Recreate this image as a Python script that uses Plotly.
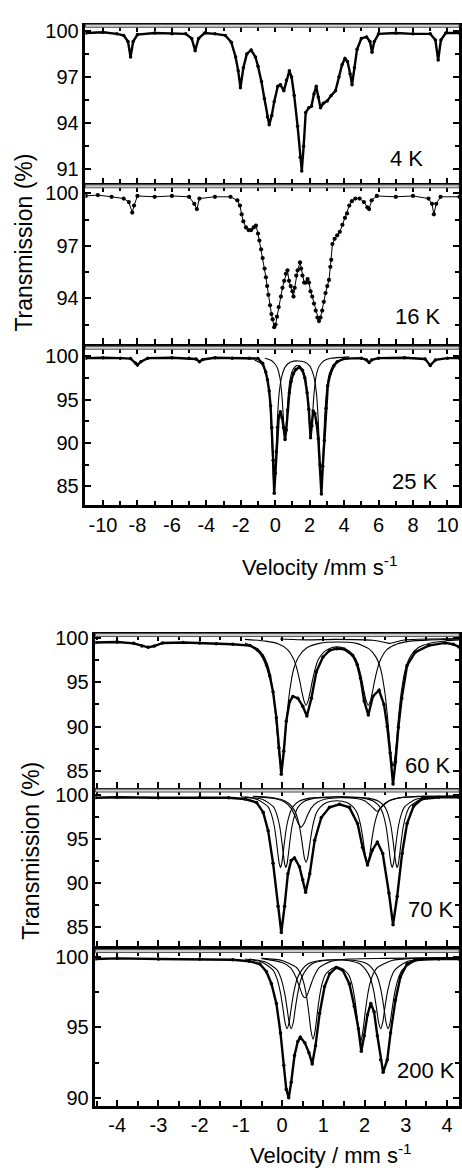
import plotly.graph_objects as go

# ---------------- DATA ----------------
# Top group: velocity in mm/s, transmission in %
v4K = [-11.0,-10.0,-9.2,-8.8,-8.55,-8.4,-8.25,-8.0,-7.0,-6.0,-5.2,-4.85,-4.65,-4.45,-4.1,-3.5,-2.9,-2.55,-2.3,-2.15,-2.02,-1.85,-1.65,-1.4,-1.15,-1.0,-0.8,-0.63,-0.45,-0.35,-0.2,-0.06,0.15,0.3,0.5,0.65,0.82,0.95,1.1,1.3,1.45,1.54,1.65,1.77,1.95,2.1,2.25,2.38,2.5,2.63,2.8,3.02,3.25,3.5,3.7,3.88,4.05,4.2,4.35,4.46,4.6,4.75,5.0,5.3,5.5,5.62,5.75,6.0,7.0,8.0,9.0,9.3,9.46,9.62,9.9,10.7]
t4K = [99.85,99.9,99.8,99.7,99.3,98.3,99.3,99.75,99.85,99.8,99.8,99.5,98.7,99.5,99.85,99.8,99.7,99.25,98.3,97.4,96.3,97.6,98.5,98.75,98.3,97.7,96.7,95.6,94.4,93.9,94.5,95.4,96.4,96.5,96.1,96.8,97.4,97.0,95.8,93.8,91.8,90.9,92.5,94.7,95.0,95.1,95.9,96.4,95.7,95.0,95.3,95.45,95.8,96.1,97.0,97.8,98.2,98.0,97.2,96.5,97.6,98.8,99.5,99.6,99.3,98.6,99.3,99.8,99.85,99.8,99.8,99.4,98.1,99.4,99.85,99.85]

v16K = [-11.0,-10.3,-9.5,-8.8,-8.5,-8.3,-8.2,-8.0,-7.0,-6.0,-5.0,-4.7,-4.55,-4.4,-3.5,-2.6,-2.2,-2.05,-1.95,-1.85,-1.7,-1.55,-1.4,-1.25,-1.12,-1.0,-0.92,-0.82,-0.73,-0.62,-0.54,-0.47,-0.4,-0.3,-0.22,-0.15,-0.06,0.02,0.1,0.2,0.33,0.42,0.52,0.62,0.71,0.8,0.9,1.0,1.06,1.13,1.22,1.3,1.44,1.5,1.58,1.68,1.77,1.88,1.96,2.05,2.15,2.25,2.35,2.45,2.54,2.63,2.73,2.82,2.92,3.02,3.12,3.2,3.25,3.32,3.45,3.6,3.75,3.9,4.05,4.17,4.3,4.45,4.65,4.9,5.15,5.35,5.45,5.6,5.9,7.0,8.0,8.9,9.1,9.21,9.35,9.6,10.7]
t16K = [99.85,99.9,99.8,99.7,99.5,98.9,99.3,99.85,99.8,99.85,99.8,99.4,99.1,99.7,99.8,99.8,99.6,99.3,98.8,98.4,98.05,97.9,97.9,98.05,98.15,97.7,97.3,96.8,96.3,95.7,95.2,94.7,94.2,93.6,93.1,92.8,92.35,92.5,92.95,93.5,94.1,94.6,95.0,95.4,95.6,95.0,94.7,94.4,94.1,94.6,95.3,95.6,96.05,95.7,95.3,94.9,94.9,95.1,94.9,94.4,94.1,93.7,93.3,92.9,92.7,92.9,93.3,93.8,94.3,94.7,95.05,95.8,96.2,97.1,97.4,97.6,97.8,98.2,98.6,98.85,99.3,99.55,99.7,99.7,99.5,99.2,99.1,99.6,99.85,99.8,99.85,99.7,99.4,98.8,99.4,99.8,99.8]

v25K = [-11.0,-10.0,-9.0,-8.4,-8.1,-8.0,-7.8,-7.4,-6.0,-5.0,-4.6,-4.4,-4.2,-3.5,-2.5,-1.5,-1.0,-0.73,-0.55,-0.45,-0.35,-0.27,-0.2,-0.12,-0.06,0.0,0.06,0.13,0.2,0.3,0.4,0.48,0.57,0.64,0.72,0.82,0.92,1.05,1.2,1.4,1.58,1.72,1.85,1.95,2.05,2.13,2.2,2.3,2.4,2.5,2.6,2.68,2.76,2.85,2.95,3.05,3.2,3.4,3.6,4.0,5.0,5.3,5.45,5.6,6.0,7.5,8.7,9.0,9.3,10.0,10.7]
t25K = [99.8,99.85,99.8,99.75,99.2,99.0,99.4,99.8,99.85,99.8,99.7,99.4,99.65,99.85,99.8,99.8,99.75,99.2,98.2,97.3,96.0,94.3,91.8,88.0,84.2,86.5,89.0,91.8,93.0,93.6,92.9,91.8,90.4,91.5,93.8,95.8,97.1,98.0,98.5,98.75,98.4,97.5,95.8,93.9,90.6,92.0,93.7,93.4,92.3,90.5,87.5,84.1,87.3,90.3,94.0,96.6,98.0,98.9,99.4,99.75,99.8,99.6,99.3,99.6,99.8,99.85,99.7,98.95,99.6,99.8,99.8]

# 25 K fit components
v25K_c1 = [-1.2,-0.8,-0.5,-0.35,-0.25,-0.17,-0.1,-0.06,-0.02,0.05,0.13,0.23,0.38,0.6,0.9,1.31,1.7,2.0,2.24,2.39,2.49,2.57,2.64,2.68,2.72,2.79,2.87,2.97,3.12,3.42,3.82,4.3]
t25K_c1 = [99.6,99.15,97.8,95.8,92.9,89.1,85.7,85.0,85.7,89.1,92.9,95.8,97.7,98.85,99.35,99.48,99.35,98.9,97.7,95.8,92.9,89.1,85.7,85.0,85.7,89.1,92.9,95.8,97.8,99.15,99.6,99.75]
v25K_c2 = [-0.6,-0.2,0.0,0.13,0.28,0.38,0.46,0.53,0.57,0.61,0.68,0.76,0.86,1.01,1.2,1.31,1.42,1.61,1.77,1.87,1.95,2.02,2.06,2.10,2.17,2.25,2.35,2.5,2.63,2.83,3.23,4.3]
t25K_c2 = [99.78,99.5,99.1,98.65,97.45,95.65,93.35,91.35,90.95,91.35,93.3,95.6,97.3,98.4,98.9,98.95,98.9,98.4,97.3,95.6,93.3,91.35,90.95,91.35,93.35,95.65,97.45,98.65,99.1,99.5,99.78,99.95]

# Bottom group
v60K = [-4.53,-4.0,-3.6,-3.4,-3.25,-3.1,-2.9,-2.4,-2.0,-1.6,-1.2,-0.78,-0.6,-0.48,-0.38,-0.3,-0.22,-0.14,-0.08,-0.02,0.04,0.1,0.18,0.26,0.38,0.5,0.6,0.71,0.83,0.99,1.15,1.33,1.5,1.71,1.82,1.9,1.99,2.09,2.2,2.35,2.47,2.55,2.62,2.69,2.75,2.82,2.9,3.03,3.23,3.55,3.95,4.15,4.29]
t60K = [99.5,99.55,99.4,99.1,98.95,99.1,99.45,99.5,99.45,99.35,99.3,99.15,98.65,98.0,96.95,95.7,93.9,91.0,87.6,84.6,87.2,90.6,92.8,93.4,93.2,92.3,91.2,93.2,96.2,97.85,98.6,98.8,98.75,98.05,97.0,95.5,92.9,91.3,93.4,94.1,92.5,90.0,87.0,83.5,86.0,89.9,93.2,96.9,98.4,99.15,99.45,99.3,99.0]
v60K_a = [-0.9,-0.6,-0.45,-0.32,-0.22,-0.15,-0.1,-0.06,-0.02,0.02,0.06,0.11,0.18,0.28,0.41,0.6,0.9,1.33,1.8,2.1,2.27,2.39,2.49,2.56,2.61,2.65,2.69,2.73,2.77,2.82,2.89,2.99,3.12,3.3,3.6,4.0,4.29]
t60K_a = [99.45,98.8,98.0,96.5,93.9,90.9,88.1,86.3,85.5,86.3,88.1,90.9,93.9,96.5,97.95,98.9,99.4,99.55,99.4,98.8,97.9,96.5,93.9,90.9,88.1,86.3,85.5,86.3,88.1,90.9,93.9,96.5,98.0,98.9,99.45,99.7,99.8]
v60K_b = [-0.9,-0.4,-0.1,0.13,0.28,0.36,0.43,0.48,0.53,0.58,0.63,0.68,0.73,0.8,0.88,1.03,1.2,1.335,1.47,1.64,1.79,1.87,1.94,1.99,2.04,2.09,2.14,2.19,2.24,2.31,2.39,2.54,2.77,3.1,3.6,4.29]
t60K_b = [99.85,99.65,99.35,98.7,97.6,96.5,95.1,93.9,92.9,92.4,92.9,93.9,95.1,96.5,97.6,98.5,98.9,99.0,98.9,98.5,97.6,96.5,95.1,93.9,92.9,92.4,92.9,93.9,95.1,96.5,97.6,98.7,99.3,99.65,99.8,99.9]
v60K_c = [-0.05,0.6,1.3,2.2,2.45,2.6,2.75,3.0,3.6,4.29]
t60K_c = [99.9,99.8,99.85,99.75,99.55,99.4,99.55,99.8,99.9,99.95]

v70K = [-4.53,-4.0,-3.0,-2.0,-1.3,-0.9,-0.62,-0.46,-0.34,-0.22,-0.1,-0.02,0.06,0.14,0.22,0.3,0.42,0.5,0.57,0.67,0.79,0.95,1.15,1.39,1.63,1.83,1.95,2.07,2.19,2.31,2.44,2.59,2.69,2.79,2.91,3.03,3.19,3.39,3.8,4.29]
t70K = [99.75,99.8,99.75,99.8,99.75,99.6,99.2,98.1,96.0,92.3,87.4,84.4,87.4,91.1,92.6,92.9,91.9,90.4,89.0,91.1,94.9,97.5,98.65,99.0,98.65,96.8,94.1,92.1,93.8,94.7,93.4,88.9,85.3,88.5,93.4,96.8,98.8,99.6,99.8,99.8]
v70K_a1 = [-1.0,-0.6,-0.34,-0.26,-0.19,-0.14,-0.1,-0.07,-0.04,-0.01,0.02,0.06,0.11,0.18,0.26,0.41,0.66,1.0,1.4,1.8,2.09,2.34,2.49,2.57,2.64,2.69,2.73,2.76,2.79,2.82,2.85,2.89,2.94,3.01,3.09,3.35,3.75,4.29]
t70K_a1 = [99.85,99.55,98.7,97.85,96.5,94.85,93.25,92.25,91.8,92.25,93.25,94.85,96.5,97.85,98.7,99.35,99.7,99.8,99.85,99.8,99.7,99.35,98.7,97.85,96.5,94.85,93.25,92.25,91.8,92.25,93.25,94.85,96.5,97.85,98.7,99.55,99.85,99.9]
v70K_a2 = [-0.9,-0.47,-0.21,-0.13,-0.06,-0.01,0.03,0.06,0.09,0.12,0.15,0.19,0.24,0.31,0.39,0.54,0.79,1.13,1.38,1.67,1.97,2.22,2.37,2.45,2.52,2.57,2.61,2.64,2.67,2.70,2.73,2.77,2.82,2.89,2.97,3.23,3.63,4.29]
t70K_a2 = [99.85,99.55,98.7,97.85,96.5,94.85,93.25,92.25,91.8,92.25,93.25,94.85,96.5,97.85,98.7,99.35,99.7,99.8,99.85,99.8,99.7,99.35,98.7,97.85,96.5,94.85,93.25,92.25,91.8,92.25,93.25,94.85,96.5,97.85,98.7,99.55,99.85,99.9]
v70K_b = [-0.7,-0.3,0.08,0.23,0.33,0.4,0.46,0.5,0.54,0.58,0.62,0.66,0.7,0.76,0.83,0.93,1.08,1.325,1.57,1.72,1.82,1.89,1.95,1.99,2.03,2.07,2.11,2.15,2.19,2.25,2.32,2.42,2.57,2.95,3.4,4.29]
t70K_b = [99.9,99.8,99.35,98.8,98.0,96.9,95.4,94.1,92.9,92.4,92.9,94.1,95.4,96.9,98.0,98.7,99.2,99.4,99.2,98.7,98.0,96.9,95.4,94.1,92.9,92.2,92.9,94.1,95.4,96.9,98.0,98.8,99.35,99.8,99.9,99.95]
v70K_c = [-0.7,-0.14,0.06,0.21,0.31,0.38,0.46,0.54,0.61,0.71,0.86,1.06,1.4,1.8,2.0,2.15,2.3,2.45,2.6,2.8,3.3,4.29]
t70K_c = [99.9,99.6,99.25,98.6,97.7,96.9,96.4,96.9,97.7,98.6,99.25,99.6,99.75,99.65,99.4,98.85,98.2,98.85,99.4,99.7,99.9,99.95]

v200K = [-4.53,-4.0,-3.0,-2.0,-1.2,-0.8,-0.54,-0.38,-0.26,-0.14,-0.04,0.04,0.1,0.16,0.22,0.3,0.38,0.44,0.55,0.65,0.73,0.81,0.91,1.03,1.15,1.31,1.47,1.63,1.75,1.85,1.92,1.99,2.07,2.15,2.23,2.31,2.39,2.45,2.55,2.63,2.75,2.87,3.03,3.23,3.8,4.29]
t200K = [99.85,99.9,99.85,99.85,99.8,99.7,99.5,98.95,98.1,96.7,94.6,92.3,90.6,90.0,91.1,93.0,94.0,94.3,93.9,93.2,92.4,93.7,96.0,97.9,98.8,99.25,99.05,98.1,96.5,94.9,93.3,94.4,95.9,96.7,96.1,94.4,92.7,91.8,92.7,94.6,96.95,98.6,99.5,99.8,99.85,99.85]
v200K_a = [-0.9,-0.5,-0.23,-0.13,-0.04,0.02,0.07,0.12,0.17,0.22,0.28,0.37,0.47,0.62,0.92,1.345,1.77,2.07,2.22,2.32,2.41,2.47,2.52,2.57,2.62,2.67,2.73,2.82,2.92,3.19,3.59,4.29]
t200K_a = [99.85,99.65,99.1,98.5,97.45,96.35,95.35,94.9,95.35,96.35,97.45,98.5,99.05,99.5,99.75,99.8,99.75,99.5,99.05,98.5,97.45,96.35,95.35,94.9,95.35,96.35,97.45,98.5,99.1,99.65,99.85,99.95]
v200K_b = [-0.8,-0.4,-0.13,-0.03,0.06,0.12,0.17,0.22,0.27,0.32,0.38,0.47,0.57,0.72,1.02,1.305,1.59,1.89,2.04,2.14,2.23,2.29,2.34,2.39,2.44,2.49,2.55,2.64,2.74,3.01,3.41,4.29]
t200K_b = [99.85,99.65,99.1,98.5,97.45,96.35,95.35,94.9,95.35,96.35,97.45,98.5,99.05,99.5,99.75,99.8,99.75,99.5,99.05,98.5,97.45,96.35,95.35,94.9,95.35,96.35,97.45,98.5,99.1,99.65,99.85,99.95]
v200K_c = [-0.5,0.0,0.35,0.45,0.53,0.6,0.65,0.7,0.75,0.8,0.85,0.9,0.97,1.05,1.15,1.33,1.51,1.61,1.69,1.76,1.81,1.86,1.91,1.96,2.01,2.06,2.13,2.21,2.31,2.66,3.2,4.29]
t200K_c = [99.9,99.75,99.25,98.8,98.1,97.05,95.95,94.75,94.15,94.75,95.95,97.05,98.1,98.75,99.05,99.3,99.05,98.75,98.1,97.05,95.95,94.75,94.0,94.75,95.95,97.05,98.1,98.8,99.25,99.75,99.9,99.95]
v200K_d = [-0.5,0.0,0.2,0.33,0.43,0.5,0.55,0.6,0.67,0.77,0.9,1.15,1.6,2.5,4.29]
t200K_d = [99.9,99.6,99.25,98.6,97.8,97.25,97.1,97.25,97.8,98.6,99.25,99.65,99.85,99.9,99.95]

labels_top = ["4 K", "16 K", "25 K"]
labels_bot = ["60 K", "70 K", "200 K"]
xticks_top = [-10, -8, -6, -4, -2, 0, 2, 4, 6, 8, 10]
xticks_bot = [-4, -3, -2, -1, 0, 1, 2, 3, 4]

# ---------------- LAYOUT ----------------
W, H = 462, 1170
FONT = "Liberation Sans, Arial, sans-serif"
TICKSIZE = 20

def py(px):
    return 1 - px / H

panels = [
    # (top px, bottom px, yrange, tickvals, minor dtick, group)
    (18, 177, [90.1, 100.32], [91, 94, 97, 100], 1.5, "top"),
    (180, 339, [91.4, 100.4], [94, 97, 100], 1.5, "top"),
    (343, 502, [82.8, 101.0], [85, 90, 95, 100], 2.5, "top"),
    (633, 787, [83.1, 100.34], [85, 90, 95, 100], 2.5, "bot"),
    (790, 947, [82.86, 100.56], [85, 90, 95, 100], 2.5, "bot"),
    (952, 1108, [89.44, 100.42], [90, 95, 100], 2.5, "bot"),
]

fig = go.Figure()
layout = dict(width=W, height=H, margin=dict(l=0, r=0, t=0, b=0),
              paper_bgcolor="white", plot_bgcolor="white", showlegend=False,
              font=dict(family=FONT, color="black", size=TICKSIZE))

for i, (top, bot, yr, tv, mdt, grp) in enumerate(panels):
    n = "" if i == 0 else str(i + 1)
    last = i in (2, 5)
    if grp == "top":
        xdom = [86 / W, 1]
        xr = [-11.02, 10.67]
        xv = xticks_top
        xt = dict(minor=dict(ticks="inside", ticklen=5, tickwidth=2, dtick=1, tick0=0, tickcolor="black"))
    else:
        xdom = [96 / W, 1]
        xr = [-4.53, 4.29]
        xv = xticks_bot
        xt = dict(minor=dict(ticks="inside", ticklen=5, tickwidth=2, dtick=0.5, tick0=0, tickcolor="black"))
    layout["xaxis" + n] = dict(domain=xdom, range=xr, anchor="y" + n, showline=True, linewidth=2.5,
                               linecolor="black", mirror="ticks", ticks="inside", ticklen=6, tickwidth=2,
                               tickcolor="black", showgrid=False, zeroline=False, showticklabels=last,
                               tickvals=xv, ticktext=[str(t) for t in xv],
                               tickfont=dict(size=TICKSIZE, family=FONT), **xt)
    layout["yaxis" + n] = dict(domain=[py(bot), py(top)], range=yr, anchor="x" + n, showline=True,
                               linewidth=2.5, linecolor="black", mirror="ticks", ticks="inside", ticklen=6,
                               tickwidth=2, tickcolor="black", showgrid=False, zeroline=False,
                               tickvals=tv, ticktext=[str(t) for t in tv], tickfont=dict(size=TICKSIZE, family=FONT),
                               minor=dict(ticks="inside", ticklen=4, tickwidth=2, dtick=mdt, tick0=100, tickcolor="black"))

def add(x, y, i, kind):
    n = "" if i == 0 else str(i + 1)
    if kind == "data":
        fig.add_trace(go.Scatter(x=x, y=y, mode="lines+markers", xaxis="x" + n, yaxis="y" + n,
                                 line=dict(color="black", width=2.4), marker=dict(color="black", size=3.5),
                                 hoverinfo="skip"))
    elif kind == "dots":
        fig.add_trace(go.Scatter(x=x, y=y, mode="lines+markers", xaxis="x" + n, yaxis="y" + n,
                                 line=dict(color="black", width=1.0), marker=dict(color="black", size=4.2),
                                 hoverinfo="skip"))
    else:
        fig.add_trace(go.Scatter(x=x, y=y, mode="lines", xaxis="x" + n, yaxis="y" + n,
                                 line=dict(color="black", width=1.1, shape="spline", smoothing=0.6),
                                 hoverinfo="skip"))

add(v4K, t4K, 0, "data")
add(v16K, t16K, 1, "dots")
add(v25K_c1, t25K_c1, 2, "comp")
add(v25K_c2, t25K_c2, 2, "comp")
add(v25K, t25K, 2, "data")
add(v60K_a, t60K_a, 3, "comp")
add(v60K_b, t60K_b, 3, "comp")
add(v60K_c, t60K_c, 3, "comp")
add(v60K, t60K, 3, "data")
add(v70K_a1, t70K_a1, 4, "comp")
add(v70K_a2, t70K_a2, 4, "comp")
add(v70K_b, t70K_b, 4, "comp")
add(v70K_c, t70K_c, 4, "comp")
add(v70K, t70K, 4, "data")
add(v200K_a, t200K_a, 5, "comp")
add(v200K_b, t200K_b, 5, "comp")
add(v200K_c, t200K_c, 5, "comp")
add(v200K_d, t200K_d, 5, "comp")
add(v200K, t200K, 5, "data")

# grey double line along each panel top edge
shapes = []
for i, (top, bot, yr, tv, mdt, grp) in enumerate(panels):
    x0 = 86 / W if grp == "top" else 96 / W
    shapes.append(dict(type="rect", xref="paper", yref="paper", x0=x0, x1=1, y0=py(top + 1.5), y1=py(top - 1.5),
                       line=dict(color="#555", width=1), fillcolor="#d0d0d0", layer="above"))
layout["shapes"] = shapes

ann = []
label_pos = [(409, 152), (421, 311), (418, 478), (431, 765), (434, 910), (429, 1073)]
for lab, (x, y) in zip(labels_top + labels_bot, label_pos):
    ann.append(dict(text=lab, x=x / W, y=py(y), xref="paper", yref="paper", showarrow=False,
                    xanchor="center", yanchor="middle", font=dict(size=22, family=FONT)))
ann.append(dict(text="Transmission (%)", x=24 / W, y=py(237), xref="paper", yref="paper", showarrow=False,
                textangle=-90, xanchor="center", yanchor="middle", font=dict(size=23, family=FONT)))
ann.append(dict(text="Transmission (%)", x=31 / W, y=py(851), xref="paper", yref="paper", showarrow=False,
                textangle=-90, xanchor="center", yanchor="middle", font=dict(size=23, family=FONT)))
ann.append(dict(text="Velocity /mm s<sup>-1</sup>", x=322 / W, y=py(563), xref="paper", yref="paper",
                showarrow=False, xanchor="center", yanchor="middle", font=dict(size=22, family=FONT)))
ann.append(dict(text="Velocity / mm s<sup>-1</sup>", x=333 / W, y=py(1157), xref="paper", yref="paper",
                showarrow=False, xanchor="center", yanchor="middle", font=dict(size=22, family=FONT)))
layout["annotations"] = ann

fig.update_layout(**layout)
fig.write_html("out.html")
